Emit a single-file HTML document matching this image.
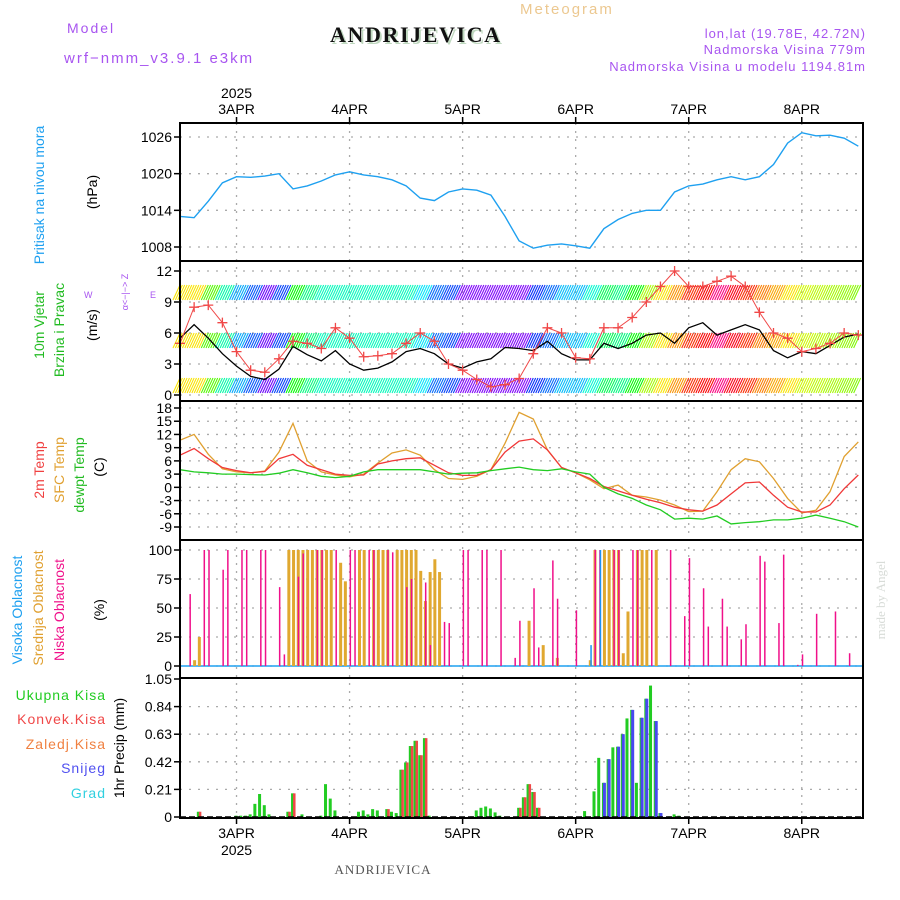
<!DOCTYPE html>
<html><head><meta charset="utf-8"><style>
html,body{margin:0;padding:0;background:#fff;}
svg{display:block;font-family:"Liberation Sans",sans-serif;}
</style></head><body>
<svg id="c" width="900" height="900" viewBox="0 0 900 900">
<g>
<text x="67" y="33" fill="#a855f0" font-size="14" letter-spacing="2">Model</text>
<text x="64" y="63" fill="#a855f0" font-size="15" letter-spacing="2">wrf−nmm_v3.9.1 e3km</text>
<text x="332" y="44" fill="#bfd8bf" font-size="22" font-weight="bold" font-family="Liberation Serif,serif" letter-spacing="1.6">ANDRIJEVICA</text>
<text x="330" y="42" fill="#111" font-size="22" font-weight="bold" font-family="Liberation Serif,serif" letter-spacing="1.6">ANDRIJEVICA</text>
<text x="520" y="14" fill="#ecc890" font-size="15" letter-spacing="2">Meteogram</text>
<text x="866" y="38" fill="#a855f0" font-size="13" text-anchor="end" letter-spacing="1">lon,lat (19.78E, 42.72N)</text>
<text x="866" y="54" fill="#a855f0" font-size="13" text-anchor="end" letter-spacing="1">Nadmorska Visina 779m</text>
<text x="866" y="71" fill="#a855f0" font-size="13" text-anchor="end" letter-spacing="1">Nadmorska Visina u modelu 1194.81m</text>
</g>
<g>
<text transform="translate(44,195) rotate(-90)" fill="#1ea0f0" font-size="14" text-anchor="middle">Pritisak na nivou mora</text>
<text transform="translate(97,192) rotate(-90)" fill="#000" font-size="14" text-anchor="middle">(hPa)</text>
<text transform="translate(44,325) rotate(-90)" fill="#22bb22" font-size="14" text-anchor="middle">10m Vjetar</text>
<text transform="translate(64,330) rotate(-90)" fill="#22bb22" font-size="14" text-anchor="middle">Brzina i Pravac</text>
<text transform="translate(97,325) rotate(-90)" fill="#000" font-size="14" text-anchor="middle">(m/s)</text>
<text transform="translate(128,292) rotate(-90)" fill="#a855f0" font-size="9" text-anchor="middle">α&lt;−|−&gt; Z</text>
<text x="84" y="298" fill="#a855f0" font-size="9">W</text>
<text x="150" y="298" fill="#a855f0" font-size="9">E</text>
<text transform="translate(44,470) rotate(-90)" fill="#f04040" font-size="14" text-anchor="middle">2m Temp</text>
<text transform="translate(64,470) rotate(-90)" fill="#e0a030" font-size="14" text-anchor="middle">SFC Temp</text>
<text transform="translate(84,475) rotate(-90)" fill="#22bb22" font-size="14" text-anchor="middle">dewpt Temp</text>
<text transform="translate(104,467) rotate(-90)" fill="#000" font-size="14" text-anchor="middle">(C)</text>
<text transform="translate(22,610) rotate(-90)" fill="#1ea0f0" font-size="14" text-anchor="middle">Visoka Oblacnost</text>
<text transform="translate(43,608) rotate(-90)" fill="#e0a030" font-size="14" text-anchor="middle">Srednja Oblacnost</text>
<text transform="translate(64,610) rotate(-90)" fill="#f0108a" font-size="14" text-anchor="middle">Niska Oblacnost</text>
<text transform="translate(104,610) rotate(-90)" fill="#000" font-size="14" text-anchor="middle">(%)</text>
<text transform="translate(124,748) rotate(-90)" fill="#000" font-size="14" text-anchor="middle">1hr Precip (mm)</text>
<text x="106" y="700" fill="#22cc22" font-size="14" text-anchor="end" letter-spacing="1">Ukupna Kisa</text>
<text x="106" y="724" fill="#f04848" font-size="14" text-anchor="end" letter-spacing="1">Konvek.Kisa</text>
<text x="106" y="749" fill="#f08040" font-size="14" text-anchor="end" letter-spacing="1">Zaledj.Kisa</text>
<text x="106" y="773" fill="#5050f0" font-size="14" text-anchor="end" letter-spacing="1">Snijeg</text>
<text x="106" y="798" fill="#30d0e0" font-size="14" text-anchor="end" letter-spacing="1">Grad</text>
<text transform="translate(885,600) rotate(-90)" fill="#d8dcd8" font-size="13" text-anchor="middle" font-family="Liberation Serif,serif">made by Angel</text>
<text x="383" y="874" fill="#555" font-size="13" text-anchor="middle" font-family="Liberation Serif,serif" letter-spacing="1">ANDRIJEVICA</text>
</g>
<g id="grid"></g>
<g id="marks"></g>
<g id="frames"></g>
</svg>
<script>
// ---- data (3-hourly from 2 Apr 12Z) ----
const dayLabels = ["3APR","4APR","5APR","6APR","7APR","8APR"];
const dayHours = [12,36,60,84,108,132];
const pressure = [1013,1012.8,1015.5,1018.5,1019.5,1019.4,1019.6,1020,1017.5,1018,1018.8,1019.8,1020.3,1019.8,1019.5,1019,1018,1016,1015.6,1017,1017.5,1017.3,1016.5,1013,1009,1007.8,1008.3,1008.5,1008.2,1007.8,1011,1012.5,1013.5,1014,1014,1017,1018,1018.3,1019,1019.5,1019,1019.5,1021.5,1025,1026.7,1026.2,1026.3,1025.8,1024.5];
const windSpeed = [5.5,6.8,5.5,4,2.8,1.8,1.5,2.5,4.7,3.9,3.3,4.3,3,2.4,2.6,3.2,4.2,4.5,4,3,2.6,3.2,3.5,4.6,4.5,4.3,5.2,4,3.4,3.4,5,4.5,5,5.8,6,5,6.5,7,5.8,6.3,6.8,6.3,4.3,3.6,4.2,4,4.8,5.6,5.9];
const windGust = [5,8.5,8.7,7,4.2,2.4,2.2,3.5,5.2,5,4.5,6.5,5.5,3.7,3.8,4,5,6,5.2,3,2.4,1.5,0.8,1,1.6,4,6.5,6,3.6,3.5,6.5,6.5,7.5,9,10.5,12,10.5,10.5,11,11.5,10.5,8,6,5.5,4.2,4.5,5,6,5.8];
const windDirHue = [55,55,100,160,200,220,265,225,120,150,165,165,165,165,165,165,165,185,215,225,270,270,270,270,270,230,215,195,195,170,140,150,120,80,55,35,10,0,330,355,10,30,40,55,70,75,80,85,90];
const temp2m = [7.3,8.8,6.5,4.5,3.8,3.3,3.6,6.5,7.5,5,4,3,2.7,2.8,5.3,6,6.5,6.7,5,3.3,2.7,2.7,4,8,10.5,11,8.5,4.5,3.3,2,0.2,-0.8,-1.8,-2.7,-3.5,-4.5,-5.1,-5.4,-4,-1.5,1,1.2,-1.8,-4.5,-5.6,-5.6,-4,-0.3,2.8];
const tempSfc = [10.7,12,7.5,4.2,3.5,3.3,3.7,8,14.5,6,3.5,2.8,2.4,3,5.5,7.8,8.5,7.3,4,2,1.8,2.5,4,10,17,15.5,8.5,4.5,3.3,1.7,-0.3,0.5,-1.8,-2.2,-2.9,-4,-5.5,-5.4,-1,4,6.5,5.8,2,-2.5,-5.8,-5.2,-1,7,10.3];
const dewpt = [4,3.5,3.3,3,3,2.9,2.8,3.2,4,3.3,2.5,2.2,2.5,3.5,4,4,4,4,3.5,3,3.2,3.3,3.8,4.2,4.6,4,3.8,4.2,3.5,3,0,-1.5,-2.5,-4,-5.1,-7.2,-7,-7.2,-6.5,-8.3,-8,-7.8,-7.4,-7.4,-7,-6.3,-7,-7.8,-9];
// ---- clouds (hourly, hour index from 2 Apr 12Z) ----
const lowCloudHours = [2,5,6,9,10,13,14,17,18,21,22,25,26,29,30,33,36,37,40,41,44,45,48,49,52,53,56,57,60,61,64,65,68,71,72,75,76,79,80,84,88,89,92,93,96,97,100,104,107,108,111,112,115,116,119,120,123,124,127,128,131,132,135,139,142];
const lowCloudVals = [62,100,100,83,100,100,100,100,100,68,10,77,97,100,100,100,100,100,100,100,100,98,68,75,72,18,38,37,100,100,100,100,100,7,39,67,16,91,58,48,100,100,100,100,100,100,100,100,43,93,67,34,58,34,23,36,95,90,37,96,1,10,45,47,11];
const midCloudHours = [3,4,23,24,25,26,27,28,29,30,31,32,34,35,38,39,41,42,43,44,46,47,48,49,50,51,52,53,54,55,74,77,80,87,88,90,91,92,93,94,95,97,98,99,101];
const midCloudVals = [5,25,100,100,100,100,100,100,100,100,100,100,89,73,100,100,100,100,100,100,100,100,100,100,100,82,56,81,92,81,39,18,7,5,100,100,100,100,100,11,47,100,100,100,100];
const highCloudHours = [87,89];
const highCloudVals = [18,100];
// ---- precipitation (hourly) ----
const precipHours = [4,12,13,14,15,16,17,18,19,23,24,26,30,31,32,33,38,39,40,41,42,44,45,46,47,48,49,50,51,52,53,62,63,64,65,66,67,68,72,73,74,75,76,86,88,89,90,91,92,93,94,95,96,97,98,99,100,101,102,104,105,106];
const precipTotal = [0.04,0.01,0.01,0.01,0.02,0.1,0.175,0.09,0.02,0.04,0.18,0.02,0.01,0.25,0.14,0.05,0.04,0.05,0.02,0.06,0.05,0.06,0.04,0.03,0.36,0.415,0.54,0.58,0.47,0.6,0.01,0.005,0.05,0.07,0.08,0.065,0.035,0.01,0.07,0.15,0.25,0.19,0.07,0.045,0.195,0.45,0.26,0.44,0.53,0.535,0.63,0.75,0.815,0.26,0.755,0.9,1.0,0.73,0.03,0.005,0.02,0.01];
const precipConv = [0.04,0,0,0,0,0,0,0,0,0.04,0.18,0,0,0,0,0,0,0,0,0,0,0.06,0,0,0.36,0.415,0.54,0.58,0.47,0.6,0,0,0,0,0,0,0,0,0.07,0.15,0.25,0.19,0.07,0,0,0,0,0,0,0,0,0,0,0,0,0,0,0,0,0,0,0];
const precipSnow = [0,0,0,0,0,0,0,0,0,0,0,0,0,0,0,0,0,0,0,0,0,0,0,0,0,0,0,0,0,0,0,0,0,0,0,0,0,0,0,0,0,0,0,0,0,0,0.26,0.44,0,0.535,0.63,0,0.815,0,0.755,0.9,0,0.73,0.03,0,0,0];
const pTicks=[1008,1014,1020,1026], wTicks=[0,3,6,9,12], tTicks=[-9,-6,-3,0,3,6,9,12,15,18], cTicks=[0,25,50,75,100], rTicks=[0,0.21,0.42,0.63,0.84,1.05];
const rTickLabels=["0","0.21","0.42","0.63","0.84","1.05"];

// ---- axes ----
const X0=180, X1=863, HSPAN=145;
const xH=h=>X0+h*(X1-X0)/HSPAN;
const x3=i=>xH(i*3);
const lin=(v0,p0,v1,p1)=>v=>p0+(v-v0)*(p1-p0)/(v1-v0);
const yP=lin(1008,247,1026,137), yW=lin(0,395,12,271), yT=lin(-9,527,18,408), yC=lin(0,666,100,550), yR=lin(0,817,1.05,679);
const panels=[[123,261],[261,401],[401,540],[540,678],[678,818]];
const NS="http://www.w3.org/2000/svg";
function mk(tag,attrs,parent){const e=document.createElementNS(NS,tag);for(const k in attrs)e.setAttribute(k,attrs[k]);parent.appendChild(e);return e;}
const grid=document.getElementById('grid'), marks=document.getElementById('marks'), frames=document.getElementById('frames');

function yAxis(ticks,labels,fy,name,top,bot){
  ticks.forEach((t,i)=>{const y=fy(t);
    if(y>top+2&&y<bot-2){const g=mk('line',{x1:X0,x2:X1,y1:y,y2:y,stroke:'#aaa','stroke-width':1.3,'stroke-dasharray':'2,7'},grid);
    
    }
    const tk=mk('line',{x1:X0-6,x2:X0,y1:y,y2:y,stroke:'#000','stroke-width':1.5},frames);
    
    
    const tx=mk('text',{x:X0-8,y:y+5,'text-anchor':'end','font-size':14,fill:'#000'},frames);
    tx.textContent=labels?labels[i]:String(t);
    
    
  });
}
yAxis(pTicks,null,yP,'pressure-axis',123,261);
yAxis(wTicks,null,yW,'wind-axis',261,401);
yAxis(tTicks,null,yT,'temp-axis',401,540);
yAxis(cTicks,null,yC,'cloud-axis',540,678);
yAxis(rTicks,rTickLabels,yR,'precip-axis',678,818);
dayHours.forEach((h,i)=>{const x=xH(h);
  const v=mk('line',{x1:x,x2:x,y1:123,y2:818,stroke:'#aaa','stroke-width':1.3,'stroke-dasharray':'2,6'},grid);
  
  
  const t1=mk('text',{x:x,y:114,'text-anchor':'middle','font-size':14},frames);t1.textContent=dayLabels[i];
  
  
  const t2=mk('text',{x:x,y:838,'text-anchor':'middle','font-size':14},frames);t2.textContent=dayLabels[i];
  
  
  [123,818].forEach(y=>{const tk=mk('line',{x1:x,x2:x,y1:y,y2:y+(y==123?6:-6)*-1,stroke:'#000','stroke-width':1.5},frames);
    
    });
});
{const a=mk('text',{x:xH(12),y:98,'text-anchor':'middle','font-size':14},frames);a.textContent='2025';


const b=mk('text',{x:xH(12),y:855,'text-anchor':'middle','font-size':14},frames);b.textContent='2025';

}
panels.forEach(p=>{const r=mk('rect',{x:X0,y:p[0],width:X1-X0,height:p[1]-p[0],fill:'none',stroke:'#000','stroke-width':2},frames);
  
  });

function line(arr,fy,color,name,w){
  const d=arr.map((v,i)=>(i?'L':'M')+x3(i).toFixed(1)+','+fy(v).toFixed(1)).join('');
  const p=mk('path',{d:d,fill:'none',stroke:color,'stroke-width':w||1.3},marks);
  
  
}
line(pressure,yP,'#1ea0f0','pressure-line',1.4);
// wind barbs (hatched bands coloured by direction)
const bandTops=[285,333,378];
windDirHue.forEach((hue,i)=>{
  bandTops.forEach(top=>{
    for(let k=0;k<6;k++){
      const x=x3(i)+k*2.36;
      if(x>X1-2)continue;
      const l=mk('line',{x1:x,y1:top,x2:x-7,y2:top+15,stroke:`hsl(${hue},95%,50%)`,'stroke-width':1.1},marks);
      
      
    }
  });
});
line(windSpeed,yW,'#000','wind-speed-line',1.3);
line(windGust,yW,'#f04848','wind-gust-line',1);
windGust.forEach((v,i)=>{const x=x3(i),y=yW(v);
  const p=mk('path',{d:`M${x-5},${y}h10M${x},${y-5}v10`,stroke:'#f04848','stroke-width':1.3},marks);
  
  });
line(tempSfc,yT,'#e0a030','sfc-temp-line',1.3);
line(temp2m,yT,'#f03838','temp-2m-line',1.3);
line(dewpt,yT,'#22cc22','dewpt-line',1.3);
function cbars(hours,vals,color,name,dx,w){
  hours.forEach((h,i)=>{const x=xH(h)+dx, y=yC(vals[i]);
    const r=mk('rect',{x:x,y:y,width:w,height:yC(0)-y,fill:color},marks);
    
    });
}
{const b=mk('line',{x1:X0,x2:X1,y1:yC(0),y2:yC(0),stroke:'#1ea0f0','stroke-width':1.5},marks);

}
cbars(midCloudHours,midCloudVals,'#e0a830','mid-cloud-bar',-1,3);
cbars(lowCloudHours,lowCloudVals,'#f0108a','low-cloud-bar',0,1.5);
cbars(highCloudHours,highCloudVals,'#1e90f0','high-cloud-bar',0.5,1.5);
precipHours.forEach((h,i)=>{const x=xH(h);
  const yt=yR(precipTotal[i]);
  const g=mk('rect',{x:x-2,y:yt,width:3,height:yR(0)-yt,fill:'#22cc22'},marks);
  
  
  if(precipConv[i]>0){const yc=yR(precipConv[i]);
    const r=mk('rect',{x:x,y:yc,width:2.5,height:yR(0)-yc,fill:'#f04848'},marks);
    
    }
  if(precipSnow[i]>0){const ys=yR(precipSnow[i]);
    const s=mk('rect',{x:x-1,y:ys,width:3,height:yR(0)-ys,fill:'#4848f0'},marks);
    
    }
});
{const b=mk('line',{x1:X0,x2:X1,y1:yR(0),y2:yR(0),stroke:'#000','stroke-width':1.5,'stroke-dasharray':'6,3'},marks);

}
</script>
</body></html>
